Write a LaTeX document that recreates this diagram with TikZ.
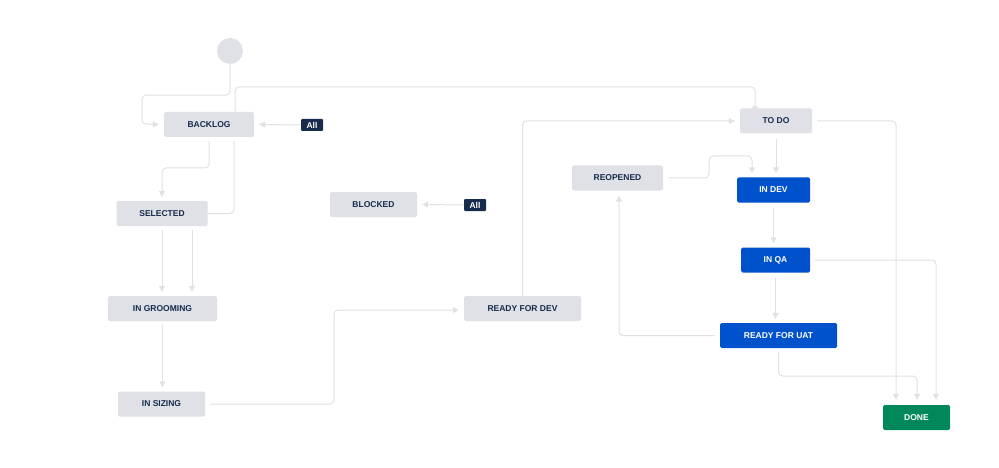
\documentclass[tikz,border=0pt]{standalone}
\usepackage{fontspec}
\setmainfont{Liberation Sans}
\usetikzlibrary{positioning, arrows.meta}
\definecolor{stgray}{HTML}{DFE1E6}
\definecolor{stblue}{HTML}{0052CC}
\definecolor{stgreen}{HTML}{00875A}
\definecolor{stnavy}{HTML}{172B4D}
\definecolor{edgegray}{HTML}{DFE1E6}

\begin{document}
\begin{tikzpicture}[x=1pt, y=-1pt,
    status/.style={fill=stgray, text=stnavy, rounded corners=1.5pt, minimum height=25pt, inner sep=0pt, font=\bfseries\fontsize{8.5}{10}\selectfont},
    todo/.style={status},
    prog/.style={status, fill=stblue, text=white},
    done/.style={status, fill=stgreen, text=white},
    alltag/.style={fill=stnavy, text=white, rounded corners=1pt, minimum width=22pt, minimum height=12pt, inner sep=0pt, font=\bfseries\fontsize{8.5}{10}\selectfont},
    flow/.style={draw=edgegray, line width=1pt, rounded corners=4pt, -{Triangle[width=6pt,length=6pt]}},
    link/.style={draw=edgegray, line width=1pt, rounded corners=4pt}]
    \useasboundingbox (0,0) rectangle (999,468);
    % Start
    \node (start) [circle, fill=stgray, minimum size=26pt, inner sep=0pt] at (230,51) {};
    % Left statuses
    \node (backlog) [todo, minimum width=90pt] at (209,124.5) {BACKLOG};
    \node (all1) [alltag] at (312,125) {All};
    \node (selected) [todo, minimum width=91pt] at (162,213.5) {SELECTED};
    \node (blocked) [todo, minimum width=87pt] at (373.5,204.5) {BLOCKED};
    \node (all2) [alltag] at (475,205) {All};
    \node (grooming) [todo, minimum width=109pt] at (162.5,308.5) {IN GROOMING};
    \node (sizing) [todo, minimum width=87pt] at (161.5,404) {IN SIZING};
    \node (readydev) [todo, minimum width=117pt] at (522.5,308.5) {READY FOR DEV};
    % Right statuses
    \node (todo) [todo, minimum width=72pt] at (776,121) {TO DO};
    \node (reopened) [todo, minimum width=91pt] at (617.5,178) {REOPENED};
    \node (indev) [prog, minimum width=73pt] at (773.5,190) {IN DEV};
    \node (inqa) [prog, minimum width=69pt] at (775.5,260) {IN QA};
    \node (readyuat) [prog, minimum width=117pt] at (778.5,335.5) {READY FOR UAT};
    \node (done) [done, minimum width=67pt] at (916.5,417.5) {DONE};
    % Transitions
    \draw [flow] (start.south) -- ++(0,31) -| (142,124) -- ([xshift=-5pt]backlog.west);
    \draw [flow] ([xshift=26pt]backlog.north) |- (755,87) -- ([xshift=-21pt,yshift=-4pt]todo.north);
    \draw [flow] (all1.west) -- ([xshift=5pt]backlog.east);
    \draw [flow] ([yshift=-4pt]backlog.south) |- (162,168) -- ([yshift=4pt]selected.north);
    \draw [link] ([xshift=25pt,yshift=-4pt]backlog.south) |- (selected.east);
    \draw [flow] ([yshift=-4pt]selected.south) -- ([yshift=4pt]selected.south |- grooming.north);
    \draw [flow] ([xshift=30pt,yshift=-4pt]selected.south) -- ([xshift=30pt,yshift=4pt]selected.south |- grooming.north);
    \draw [flow] ([yshift=-4pt]grooming.south) -- ([yshift=4pt]grooming.south |- sizing.north);
    \draw [flow] ([xshift=5pt]sizing.east) -| (334,310) -- ([xshift=-5pt]readydev.west |- 0,310);
    \draw [flow] ([yshift=-1pt]readydev.north) |- ([xshift=-5pt]todo.west);
    \draw [flow] (all2.west) -- ([xshift=5pt]blocked.east);
    \draw [flow] ([yshift=-5pt]todo.south) -- ([yshift=4pt]todo.south |- indev.north);
    \draw [flow] ([xshift=5pt]reopened.east) -- (709,178) |- (752,156) -- ([xshift=-21.5pt,yshift=4pt]indev.north);
    \draw [flow] ([yshift=-5pt]indev.south) -- ([yshift=4pt]indev.south |- inqa.north);
    \draw [flow] ([yshift=-5pt]inqa.south) -- ([yshift=4pt]inqa.south |- readyuat.north);
    \draw [flow] ([xshift=-5pt]readyuat.west) -| ([xshift=1.5pt,yshift=-5pt]reopened.south);
    \draw [flow] ([yshift=-4pt]readyuat.south) |- (917,376) -- ([xshift=0.5pt,yshift=5pt]done.north);
    \draw [flow] ([xshift=5pt]todo.east) -| ([xshift=-20.5pt,yshift=5pt]done.north);
    \draw [flow] ([xshift=5pt]inqa.east) -| ([xshift=19.5pt,yshift=5pt]done.north);
\end{tikzpicture}
\end{document}
